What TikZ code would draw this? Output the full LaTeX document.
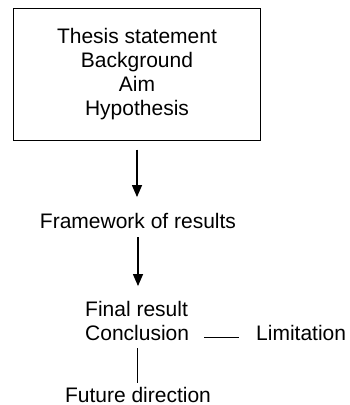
\documentclass[tikz,border=0pt]{standalone}
\usepackage{fontspec}
\setmainfont{Liberation Sans}
\usetikzlibrary{arrows.meta}
\begin{document}
\begin{tikzpicture}[x=1pt,y=-1pt,
  txt/.style={inner sep=0pt, font=\fontsize{21}{24}\selectfont},
  boxnode/.style={draw, line width=1.1pt, align=center, minimum width=247pt, minimum height=132pt, inner sep=0pt, font=\fontsize{21}{24}\selectfont},
  arr/.style={line width=1.3pt, -{Triangle[width=10pt,length=12pt]}},
  link/.style={line width=1.1pt}]
\useasboundingbox (0,0) rectangle (349,405);
\node[boxnode] (box) at (137,74.5) {Thesis statement\\Background\\Aim\\Hypothesis};
\node[txt, anchor=base] (frame) at (138,228) {Framework of results};
\node[txt, anchor=base west] (final) at (85,316) {Final result};
\node[txt, anchor=base west] (concl) at (85,340) {Conclusion};
\node[txt, anchor=base west] (lim) at (256,340) {Limitation};
\node[txt, anchor=base] (future) at (138,402) {Future direction};
\draw[arr, shorten <=8.5pt, shorten >=15.5pt] (box.south) -- (box.south |- frame.north);
\draw[arr, shorten <=9pt, shorten >=14.5pt] (frame.south) -- (frame.south |- final.north);
\draw[link, shorten <=15pt, shorten >=17pt] (concl.mid east) -- (lim.mid west);
\draw[link, shorten <=8pt, shorten >=4pt] (concl.south) -- (concl.south |- future.north);
\end{tikzpicture}
\end{document}
